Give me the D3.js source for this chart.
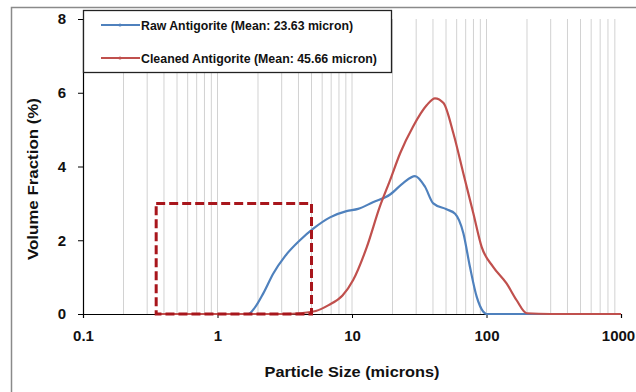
<!DOCTYPE html>
<html>
<head>
<meta charset="utf-8">
<script src="https://d3js.org/d3.v7.min.js"></script>
<style>
  body { margin: 0; background: #fff; }
  text { font-family: "Liberation Sans", Arial, sans-serif; font-weight: bold; fill: #111; }
</style>
</head>
<body>
<div id="chart"></div>
<script>
// particle sizes (microns) and volume fraction (%)
const rawSize = [0.36, 1, 1.5, 1.69, 1.9, 2.19, 2.6, 3.18, 4.1, 5.18, 6.86, 9.1, 11.1, 14.3, 19.2, 24, 29.4, 34.9, 40.2, 50.4, 58.4, 67.3, 75.3, 84.5, 94.7, 100, 200, 1000];
const rawVal  = [0, 0, 0, 0, 0.18, 0.56, 1.1, 1.57, 2.0, 2.32, 2.62, 2.79, 2.85, 3.03, 3.24, 3.55, 3.74, 3.45, 3.0, 2.84, 2.72, 2.19, 1.28, 0.47, 0.06, 0, 0, 0];
const cleanSize = [0.36, 1, 2, 3.2, 4.1, 5.38, 6.7, 8.5, 10.2, 12.9, 16.1, 19.2, 22.8, 28.4, 35.9, 41.4, 47.9, 56.7, 67.3, 79.8, 92, 112, 141, 167, 199, 300, 1000];
const cleanVal  = [0, 0, 0, 0, 0.02, 0.08, 0.24, 0.5, 0.92, 1.82, 2.91, 3.63, 4.36, 5.08, 5.66, 5.85, 5.72, 4.9, 3.81, 2.73, 1.82, 1.28, 0.83, 0.38, 0.02, 0, 0];
const seriesNames = ["Raw Antigorite (Mean: 23.63 micron)", "Cleaned Antigorite (Mean: 45.66 micron)"];
const xTicks = [0.1, 1, 10, 100, 1000];
const yTicks = [0, 2, 4, 6, 8];
const boxX = [0.35, 5];   // highlighted size range
const boxY = [0, 3];

const W = 636, H = 392;
const margin = { top: 19, right: 15, bottom: 78, left: 83 };
const width = W - margin.left - margin.right;
const height = H - margin.top - margin.bottom;

const svg = d3.select('#chart').append('svg').attr('width', W).attr('height', H);

svg.append('rect').attr('x', 11.5).attr('y', 7.5).attr('width', 640).attr('height', 400)
  .attr('fill', 'none').attr('stroke', '#8a8a8a').attr('stroke-width', 1.5);

const g = svg.append('g').attr('transform', `translate(${margin.left},${margin.top})`);

const x = d3.scaleLog().domain([0.1, 1000]).range([0, width]);
const y = d3.scaleLinear().domain([0, 8]).range([height, 0]);

// vertical gridlines at every log tick
const grid = [];
for (let d = 0.1; d < 1000; d *= 10) for (let k = 2; k <= 10; k++) grid.push(d * k);
g.selectAll('.grid').data(grid.filter(v => v < 999)).enter().append('line')
  .attr('x1', d => x(d)).attr('x2', d => x(d)).attr('y1', 0).attr('y2', height)
  .attr('stroke', '#d2d2d2').attr('stroke-width', 1);

// axes
const xAxis = g.append('g').attr('transform', `translate(0,${height})`)
  .call(d3.axisBottom(x).tickValues(xTicks).tickFormat(d3.format('')).tickSize(4).tickPadding(18));
const yAxis = g.append('g')
  .call(d3.axisLeft(y).tickValues(yTicks).tickSize(5).tickPadding(12));
[xAxis, yAxis].forEach(a => {
  a.select('.domain').attr('stroke', '#000').attr('stroke-width', 1.2);
  a.selectAll('.tick line').attr('stroke', '#000');
  a.selectAll('.tick text').style('font-size', '15px').attr('fill', '#111');
});
xAxis.selectAll('.tick text').attr('dy', '0.35em');
// last label sits at the right edge; nudge it so it stays inside
xAxis.selectAll('.tick text').filter(d => d === 1000).attr('x', -3);

const line = d3.line().x(d => x(d[0])).y(d => y(d[1])).curve(d3.curveMonotoneX);
const blue = '#4f81bd', red = '#c0504d';
g.append('path').datum(d3.zip(rawSize, rawVal)).attr('d', line)
  .attr('fill', 'none').attr('stroke', blue).attr('stroke-width', 2.2);
g.append('path').datum(d3.zip(cleanSize, cleanVal)).attr('d', line)
  .attr('fill', 'none').attr('stroke', red).attr('stroke-width', 2.2);

// dashed highlight box
g.append('rect')
  .attr('x', x(boxX[0])).attr('y', y(boxY[1]))
  .attr('width', x(boxX[1]) - x(boxX[0])).attr('height', y(boxY[0]) - y(boxY[1]))
  .attr('fill', 'none').attr('stroke', '#a8161c').attr('stroke-width', 3)
  .attr('stroke-dasharray', '9,4');

// legend
const leg = svg.append('g');
leg.append('rect').attr('x', 83.5).attr('y', 10.5).attr('width', 308).attr('height', 62)
  .attr('fill', '#fff').attr('stroke', '#222').attr('stroke-width', 1.3);
const legW = [212, 236];
[blue, red].forEach((c, i) => {
  const ly = 25 + i * 33;
  leg.append('line').attr('x1', 101).attr('x2', 140).attr('y1', ly).attr('y2', ly)
    .attr('stroke', c).attr('stroke-width', 2);
  leg.append('circle').attr('cx', 120).attr('cy', ly).attr('r', 1.6).attr('fill', c);
  leg.append('text').attr('x', 141).attr('y', ly).attr('dy', '0.35em')
    .attr('textLength', legW[i]).attr('lengthAdjust', 'spacingAndGlyphs')
    .style('font-size', '13px').text(seriesNames[i]);
});

// axis titles
svg.append('text').attr('x', 352).attr('y', 372).attr('dy', '0.35em').attr('text-anchor', 'middle')
  .attr('textLength', 175).attr('lengthAdjust', 'spacingAndGlyphs')
  .style('font-size', '15px').text('Particle Size (microns)');
svg.append('text').attr('transform', 'translate(33,179) rotate(-90)').attr('dy', '0.35em')
  .attr('text-anchor', 'middle').attr('textLength', 162).attr('lengthAdjust', 'spacingAndGlyphs')
  .style('font-size', '15px').text('Volume Fraction (%)');
</script>
</body>
</html>
